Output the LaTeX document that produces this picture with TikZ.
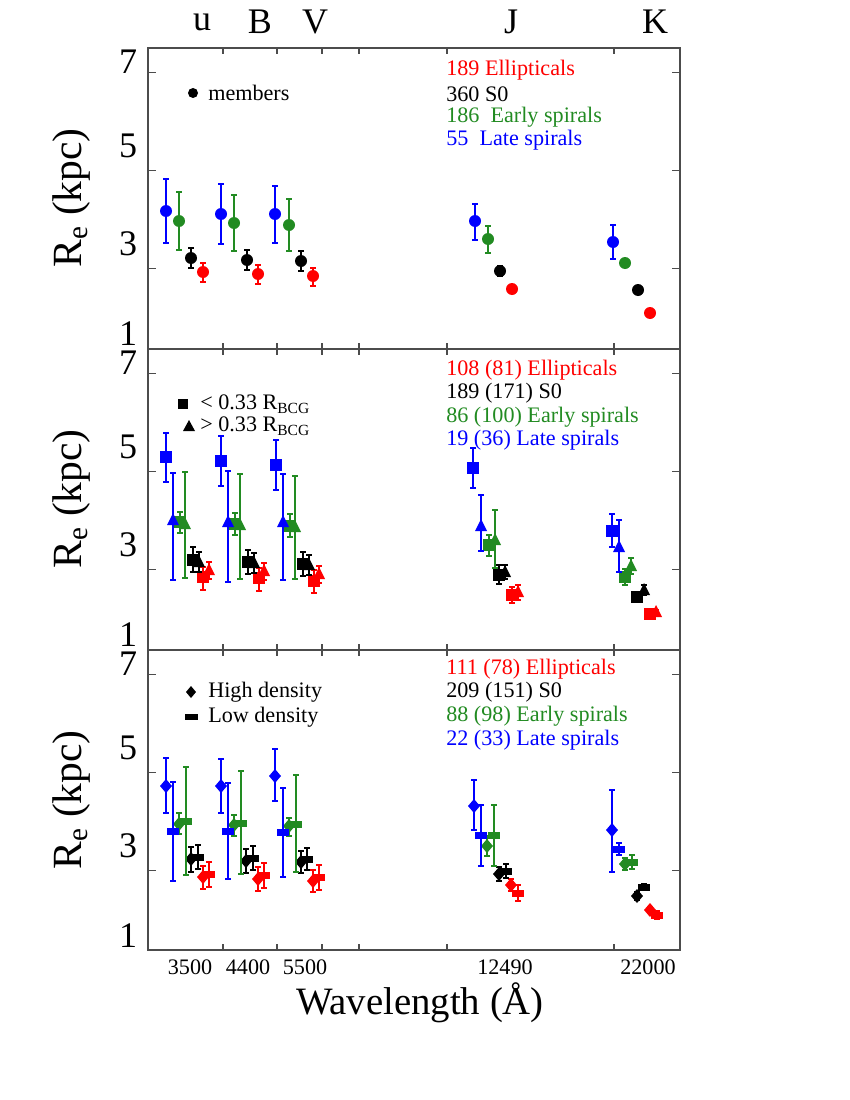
\documentclass[tikz,border=0pt]{standalone}
\usepackage{fontspec}
\setmainfont{Liberation Serif}
\usepackage{tikz}
\definecolor{egreen}{RGB}{34,139,34}
\tikzset{
  frame/.style={draw=black!70, line width=1pt},
  tick/.style={draw=black!70, line width=0.8pt},
  ebar/.style={line width=1.3pt},
  leg/.style={anchor=west, inner sep=0pt, font=\fontsize{16}{19}\selectfont},
}
% error bar: colour, x, y, low, high
\newcommand{\ebar}[5]{\draw[ebar,#1] (#2,#4) -- (#2,#5) (#2-3,#4) -- (#2+3,#4) (#2-3,#5) -- (#2+3,#5);}
\newcommand{\pcirc}[3]{\fill[#1] (#2,#3) circle (6);}
\newcommand{\psq}[3]{\fill[#1] (#2-6,#3-6) rectangle (#2+6,#3+6);}
\newcommand{\ptri}[3]{\fill[#1] (#2-6,#3+5) -- (#2+6,#3+5) -- (#2,#3-7) -- cycle;}
\newcommand{\pdia}[3]{\fill[#1] (#2,#3-7) -- (#2+6,#3) -- (#2,#3+7) -- (#2-6,#3) -- cycle;}
\newcommand{\plow}[3]{\fill[#1] (#2-6,#3-3.5) rectangle (#2+6,#3+3.5);}

\begin{document}
\begin{tikzpicture}[x=0.01in, y=-0.01in]
    \useasboundingbox (0,0) rectangle (850,1100);

    % panels and ticks
    \foreach \t/\b in {48/349, 349/650, 650/950} {
      \draw[frame] (148,\t) rectangle (680,\b);
      \foreach \yy in {0.5,2.5,4.5} {
        \draw[tick] (148,\t+\yy*49) -- (156,\t+\yy*49);
        \draw[tick] (680,\t+\yy*49) -- (672,\t+\yy*49);
      }
      \foreach \xx in {223,277,322,359,447,614} {
        \draw[tick] (\xx,\t) -- (\xx,\t+6);
        \draw[tick] (\xx,\b) -- (\xx,\b-6);
      }
    }

    % axis labels
    \foreach \t/\n in {48/p1, 349/p2, 650/p3} {
      \foreach \v/\yy in {7/14, 5/98, 3/196, 1/286}
        \node[font=\fontsize{26}{30}\selectfont] at (128,\t+\yy) {\v};
      \node[rotate=90, font=\fontsize{30}{34}\selectfont] (lab\n) at (72,\t+150) {R$_\mathrm{e}$ (kpc)};
    }
    \foreach \l/\xx in {u/202, B/260, V/315, J/511, K/655}
      \node[font=\fontsize{26}{30}\selectfont] at (\xx,22) {\l};
    \foreach \l/\xx in {3500/190, 4400/248, 5500/305, 12490/505, 22000/648}
      \node[font=\fontsize{16}{19}\selectfont] at (\xx,967) {\l};
    \node[font=\fontsize{28}{32}\selectfont] (xlab) at (420,1003) {Wavelength (Å)};

    % legends
    \node[leg, red] at (446,70) {189 Ellipticals};
    \node[leg] at (446,94) {360 S0};
    \node[leg, egreen] at (446,117) {186\ \ Early spirals};
    \node[leg, blue] at (446,140) {55\ \ Late spirals};
    \node[leg, red] at (446,370) {108 (81) Ellipticals};
    \node[leg] at (446,393) {189 (171) S0};
    \node[leg, egreen] at (446,417) {86 (100) Early spirals};
    \node[leg, blue] at (446,440) {19 (36) Late spirals};
    \node[leg, red] at (446,669) {111 (78) Ellipticals};
    \node[leg] at (446,692) {209 (151) S0};
    \node[leg, egreen] at (446,716) {88 (98) Early spirals};
    \node[leg, blue] at (446,740) {22 (33) Late spirals};

    \fill (193,93) circle (5);
    \node[leg] at (208,93) {members};
    \fill (178,399) rectangle (188,409);
    \node[leg] at (200,404) {< 0.33 R$_\mathrm{BCG}$};
    \fill (183,431) -- (195,431) -- (189,420) -- cycle;
    \node[leg] at (200,426) {> 0.33 R$_\mathrm{BCG}$};
    \fill (191,686) -- (196,692) -- (191,698) -- (186,692) -- cycle;
    \node[leg] at (208,692) {High density};
    \fill (185,714) rectangle (198,720);
    \node[leg] at (208,717) {Low density};

    % panel 1: members
    \foreach \c/\xx/\yy/\lo/\hi in {
      blue/166/211/179/243, egreen/179/221/192/250, black/191/258/248/268, red/203/272/263/282,
      blue/221/214/184/244, egreen/234/223/195/251, black/247/260/250/270, red/258/274/265/284,
      blue/275/214/186/243, egreen/289/225/199/251, black/301/261/251/271, red/313/276/268/286,
      blue/475/221/204/240, egreen/488/239/226/253, black/500/271/266/276, red/512/289/285/293,
      blue/613/242/225/259, egreen/625/263/260/266, black/638/290/288/292, red/650/313/311/315} {
      \ebar{\c}{\xx}{\yy}{\lo}{\hi}
      \pcirc{\c}{\xx}{\yy}
    }

    % panel 2: inner (squares)
    \foreach \c/\xx/\yy/\lo/\hi in {
      blue/166/457/433/482, egreen/180/522/512/533, black/193/560/547/572, red/203/577/567/590,
      blue/221/461/436/486, egreen/235/524/513/535, black/248/562/550/574, red/259/578/568/591,
      blue/276/465/440/490, egreen/290/526/514/537, black/303/564/552/576, red/314/581/570/593,
      blue/473/468/448/488, egreen/489/545/535/556, black/499/575/565/584, red/512/595/587/603,
      blue/612/531/514/547, egreen/625/577/569/585, black/637/597/593/601, red/650/614/612/616} {
      \ebar{\c}{\xx}{\yy}{\lo}{\hi}
      \psq{\c}{\xx}{\yy}
    }
    % panel 2: outer (triangles)
    \foreach \c/\xx/\yy/\lo/\hi in {
      blue/173/520/473/580, egreen/185/524/472/578, black/199/562/552/572, red/209/570/562/579,
      blue/228/522/471/582, egreen/240/525/474/579, black/254/563/553/573, red/264/571/563/580,
      blue/283/522/474/580, egreen/295/527/476/579, black/309/565/555/575, red/319/574/566/583,
      blue/481/526/495/551, egreen/495/540/510/568, black/505/572/565/579, red/518/592/585/600,
      blue/619/547/520/572, egreen/631/566/558/574, black/644/590/585/595, red/656/612/610/614} {
      \ebar{\c}{\xx}{\yy}{\lo}{\hi}
      \ptri{\c}{\xx}{\yy}
    }

    % panel 3: high density (diamonds)
    \foreach \c/\xx/\yy/\lo/\hi in {
      blue/166/786/758/813, egreen/179/824/813/834, black/191/859/847/872, red/203/877/866/889,
      blue/221/786/759/813, egreen/234/825/815/836, black/246/861/849/873, red/258/879/867/891,
      blue/275/776/749/801, egreen/289/826/818/836, black/301/862/851/873, red/313/881/870/892,
      blue/474/806/780/830, egreen/487/846/836/856, black/499/874/867/881, red/511/885/879/891,
      blue/612/830/790/872, egreen/625/864/858/870, black/637/896/892/900, red/650/910/907/913} {
      \ebar{\c}{\xx}{\yy}{\lo}{\hi}
      \pdia{\c}{\xx}{\yy}
    }
    % panel 3: low density (rectangles)
    \foreach \c/\xx/\yy/\lo/\hi in {
      blue/173/831/782/881, egreen/186/821/767/875, black/198/857/845/869, red/209/874/862/887,
      blue/228/831/783/879, egreen/241/823/771/874, black/253/858/846/870, red/264/875/863/888,
      blue/283/832/788/877, egreen/296/824/775/872, black/307/859/848/870, red/319/877/865/890,
      blue/481/835/805/866, egreen/494/835/805/866, black/506/871/864/878, red/518/893/885/901,
      blue/619/849/843/855, egreen/632/862/855/869, black/644/887/884/890, red/657/915/911/919} {
      \ebar{\c}{\xx}{\yy}{\lo}{\hi}
      \plow{\c}{\xx}{\yy}
    }
\end{tikzpicture}
\end{document}
